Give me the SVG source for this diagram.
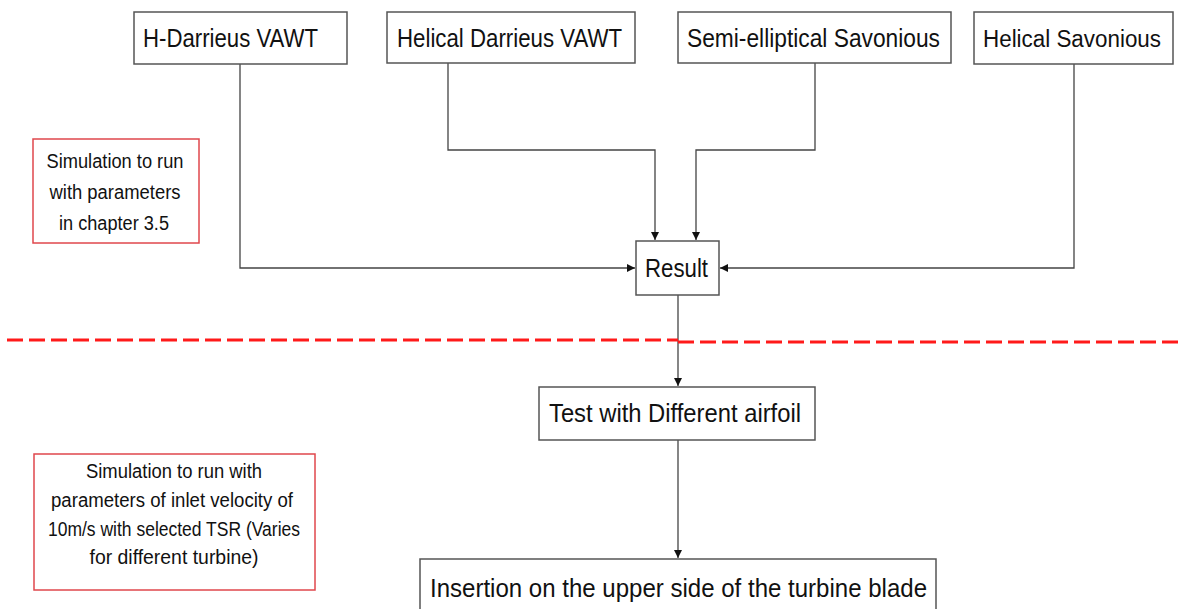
<svg xmlns="http://www.w3.org/2000/svg" width="1181" height="609" viewBox="0 0 1181 609">
<style>
.box{fill:#fff;stroke:#555;stroke-width:1.5}
.note{fill:#fff;stroke:#e0474c;stroke-width:1.5}
.t{font-family:"Liberation Sans",Arial,sans-serif;font-size:26px;fill:#111}
.n{font-family:"Liberation Sans",Arial,sans-serif;font-size:20px;fill:#111;text-anchor:middle}
.c{fill:none;stroke:#444;stroke-width:1.3}
.d{fill:none;stroke:#ff1a1a;stroke-width:3;stroke-dasharray:16 6}
</style>
<defs>
<marker id="ah" viewBox="0 0 10 10" refX="10" refY="5" markerWidth="8" markerHeight="8" markerUnits="userSpaceOnUse" orient="auto">
<path d="M0,0 L10,5 L0,10 Z" fill="#111"/>
</marker>
</defs>
<rect width="1181" height="609" fill="#fff"/>
<g id="connectors">
<path class="c" d="M240,64 V268 H635" marker-end="url(#ah)"/>
<path class="c" d="M448,63 V150 H655 V240" marker-end="url(#ah)"/>
<path class="c" d="M815,63 V150 H696 V240" marker-end="url(#ah)"/>
<path class="c" d="M1074,64 V268 H720" marker-end="url(#ah)"/>
<path class="c" d="M678,295 V386" marker-end="url(#ah)"/>
<path class="c" d="M678,440 V558" marker-end="url(#ah)"/>
</g>
<g id="divider">
<path class="d" d="M7,340 H678"/>
<path class="d" d="M678,342 H1181"/>
</g>
<g id="n1"><rect class="box" x="134" y="12" width="213" height="52"/><text class="t" x="143" y="47" textLength="175" lengthAdjust="spacingAndGlyphs">H-Darrieus VAWT</text></g>
<g id="n2"><rect class="box" x="387" y="12" width="248" height="51"/><text class="t" x="397" y="47" textLength="225" lengthAdjust="spacingAndGlyphs">Helical Darrieus VAWT</text></g>
<g id="n3"><rect class="box" x="678" y="12" width="273" height="51"/><text class="t" x="687" y="47" textLength="253" lengthAdjust="spacingAndGlyphs">Semi-elliptical Savonious</text></g>
<g id="n4"><rect class="box" x="974" y="12" width="199" height="52"/><text class="t" x="983" y="47" style="font-size:23.5px" textLength="178" lengthAdjust="spacingAndGlyphs">Helical Savonious</text></g>
<g id="result"><rect class="box" x="636" y="241" width="83" height="54"/><text class="t" x="645" y="277" textLength="63" lengthAdjust="spacingAndGlyphs">Result</text></g>
<g id="test"><rect class="box" x="539" y="387" width="276" height="53"/><text class="t" x="549" y="422" textLength="252" lengthAdjust="spacingAndGlyphs">Test with Different airfoil</text></g>
<g id="insertion"><rect class="box" x="420" y="559" width="516" height="60"/><text class="t" x="430" y="597" textLength="497" lengthAdjust="spacingAndGlyphs">Insertion on the upper side of the turbine blade</text></g>
<g id="note1"><rect class="note" x="33" y="139" width="166" height="104"/>
<text class="n" x="115" y="168" textLength="137" lengthAdjust="spacingAndGlyphs">Simulation to run</text>
<text class="n" x="115" y="199" textLength="131" lengthAdjust="spacingAndGlyphs">with parameters</text>
<text class="n" x="114" y="230" textLength="110" lengthAdjust="spacingAndGlyphs">in chapter 3.5</text></g>
<g id="note2"><rect class="note" x="34" y="454" width="281" height="136"/>
<text class="n" x="174" y="478" textLength="176" lengthAdjust="spacingAndGlyphs">Simulation to run with</text>
<text class="n" x="172" y="507" textLength="242" lengthAdjust="spacingAndGlyphs">parameters of inlet velocity of</text>
<text class="n" x="174" y="536" textLength="252" lengthAdjust="spacingAndGlyphs">10m/s with selected TSR (Varies</text>
<text class="n" x="174" y="564" textLength="169" lengthAdjust="spacingAndGlyphs">for different turbine)</text></g>
</svg>
